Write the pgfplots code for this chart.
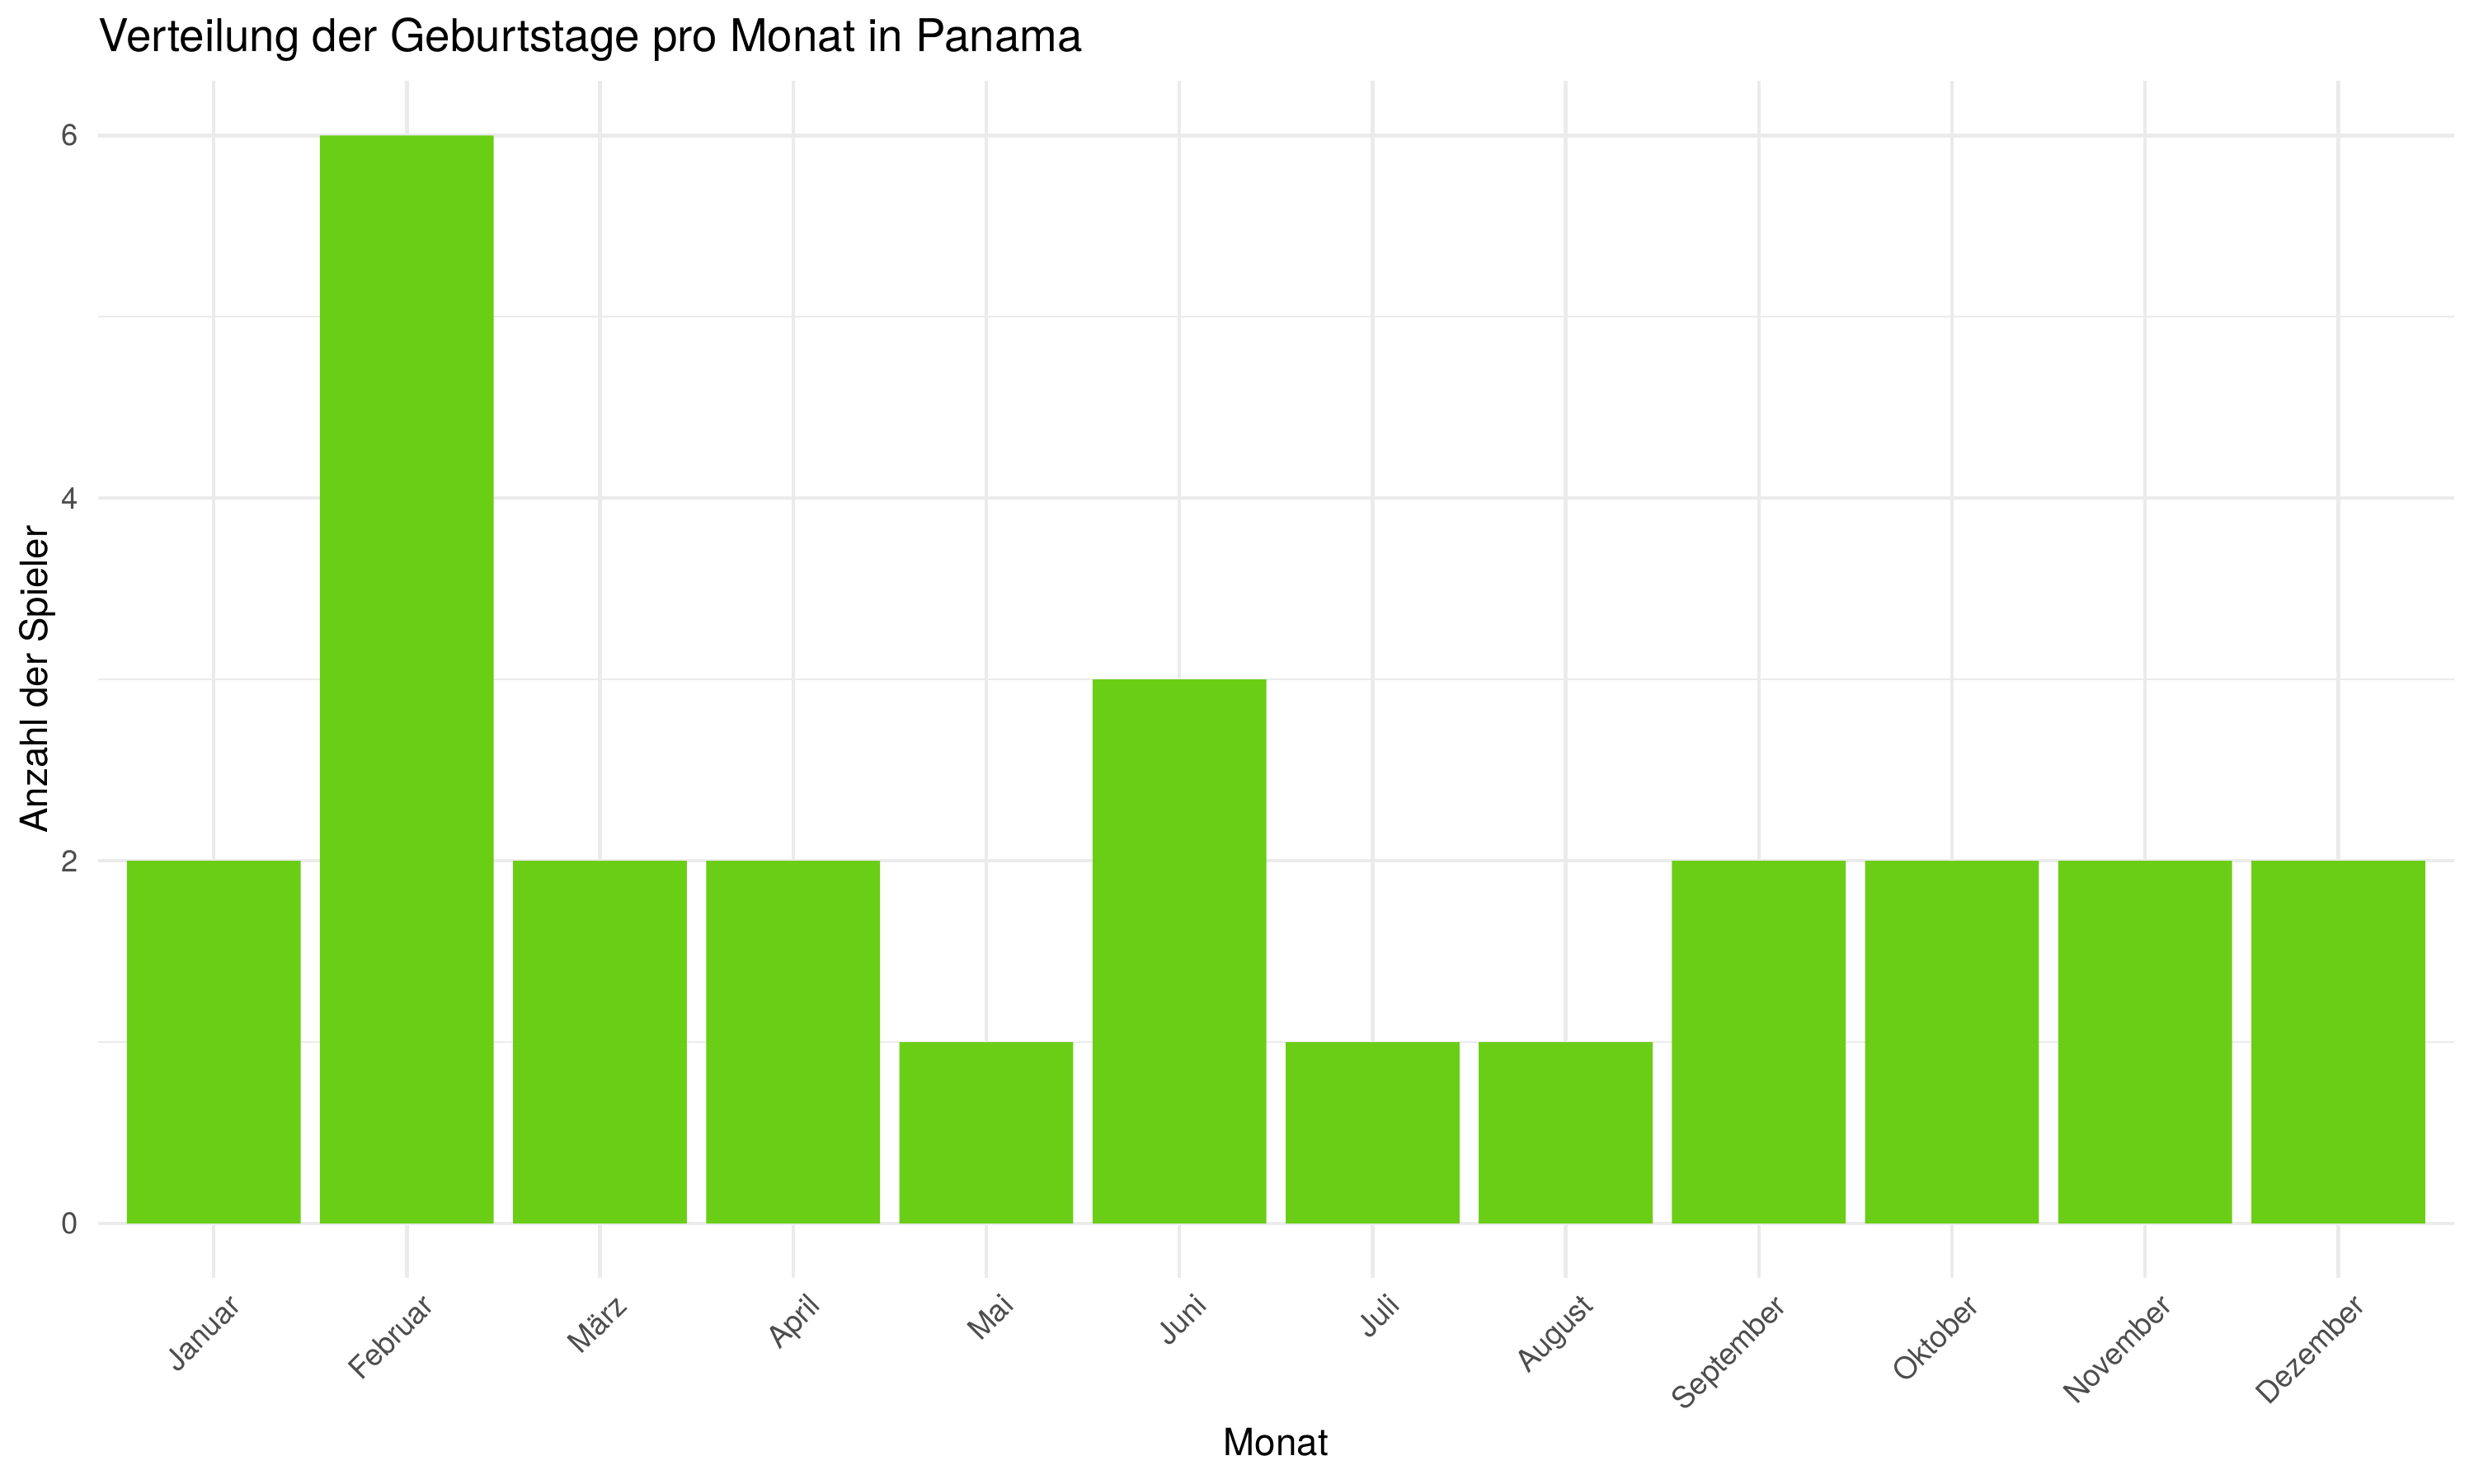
\documentclass[border=0pt]{standalone}
\usepackage{pgfplots}
\usepackage{fontspec}
\setmainfont{TeX Gyre Heros}
\pgfplotsset{compat=1.18}
\definecolor{BarGreen}{HTML}{6ACE16}
\definecolor{GridGray}{HTML}{EBEBEB}
\definecolor{TickGray}{HTML}{4D4D4D}

\begin{document}
\begin{tikzpicture}
\path[use as bounding box] (-28.6pt,-60.2pt) rectangle (694.7pt,373.7pt);
\begin{axis}[
    scale only axis,
    width=688.9pt,
    height=350pt,
    xmin=0.4, xmax=12.6,
    ymin=-0.3, ymax=6.3,
    xtick={1,...,12},
    xticklabels={Januar,Februar,März,April,Mai,Juni,Juli,August,September,Oktober,November,Dezember},
    ytick={0,2,4,6},
    minor ytick={1,3,5},
    /pgf/number format/assume math mode=true,
    x tick label style={font=\fontsize{8.8}{10}\selectfont,text=TickGray,rotate=45,anchor=north east,inner sep=0pt,yshift=-5.5pt},
    y tick label style={font=\fontsize{8.8}{10}\selectfont,text=TickGray,inner sep=0pt,xshift=-5.5pt},
    major tick length=0pt,
    minor tick length=0pt,
    axis line style={draw=none},
    xmajorgrids=true,
    ymajorgrids=true,
    yminorgrids=true,
    major grid style={GridGray,line width=1.07pt},
    minor grid style={GridGray,line width=0.53pt},
    clip=false,
]
\addplot[ybar,bar width=0.9,fill=BarGreen,draw=none] coordinates {
    (1,2) (2,6) (3,2) (4,2) (5,1) (6,3)
    (7,1) (8,1) (9,2) (10,2) (11,2) (12,2)
};
\node[anchor=base west,font=\fontsize{13.2}{15}\selectfont,inner sep=0pt]
    at ([yshift=8.6pt]rel axis cs:0,1) {Verteilung der Geburtstage pro Monat in Panama};
\node[anchor=base,font=\fontsize{11}{13}\selectfont,inner sep=0pt]
    at ([yshift=-52pt]rel axis cs:0.5,0) {Monat};
\node[anchor=base,rotate=90,font=\fontsize{11}{13}\selectfont,inner sep=0pt]
    at ([xshift=-14.8pt]rel axis cs:0,0.5) {Anzahl der Spieler};
\end{axis}
\end{tikzpicture}
\end{document}
